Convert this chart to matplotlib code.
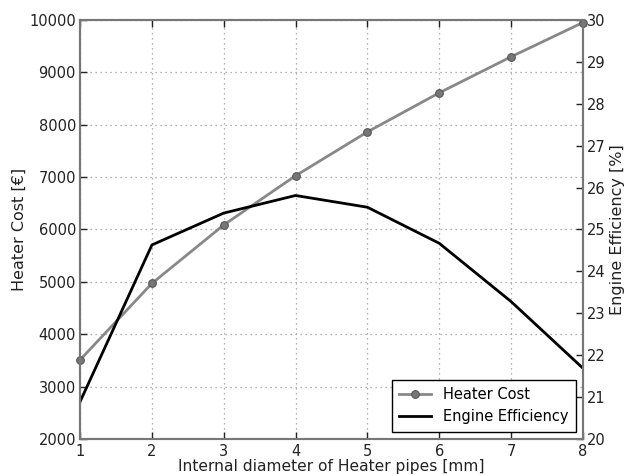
import matplotlib
matplotlib.use('Agg')
import matplotlib.pyplot as plt

# data
diameter = [1, 2, 3, 4, 5, 6, 7, 8]
heater_cost = [3510, 4970, 6085, 7025, 7862, 8608, 9296, 9950]
engine_eff = [20.89, 24.63, 25.39, 25.81, 25.53, 24.67, 23.28, 21.69]

plt.rcParams['font.family'] = ['DejaVu Sans']
plt.rcParams['font.size'] = 10.5

fig = plt.figure(figsize=(6.26, 4.75), dpi=100)
ax1 = fig.add_axes([0.128, 0.076, 0.803, 0.882])
ax2 = ax1.twinx()

l1, = ax1.plot(diameter, heater_cost, color='#888888', lw=2, marker='o',
               markersize=5.5, markerfacecolor='#777777', markeredgecolor='#555555',
               markeredgewidth=0.8, label='Heater Cost', clip_on=False, zorder=3)
l2, = ax2.plot(diameter, engine_eff, color='black', lw=2, label='Engine Efficiency')

ax1.set_xlim(1, 8)
ax1.set_ylim(2000, 10000)
ax2.set_ylim(20, 30)
ax1.set_xticks(diameter)
ax1.set_yticks(range(2000, 10001, 1000))
ax2.set_yticks(range(20, 31))

ax1.set_xlabel('Internal diameter of Heater pipes [mm]', color='#222222',
               fontsize=11.2, labelpad=0)
ax1.set_ylabel('Heater Cost [€]', color='#222222', fontsize=11.5, labelpad=1.5)
ax2.set_ylabel('Engine Efficiency [%]', color='#222222', fontsize=11.5, labelpad=3)

ax1.grid(True, linestyle=(0, (1, 3)), color='#999999', linewidth=0.9)

for ax in (ax1, ax2):
    for s in ax.spines.values():
        s.set_color('#777777')
        s.set_linewidth(1.5)
    ax.tick_params(direction='in', colors='#222222', length=5, width=1,
                   pad=3, labelsize=10.5)
ax1.tick_params(axis='x', top=True, pad=4)
ax1.tick_params(axis='y', right=False)

leg = ax2.legend([l1, l2], ['Heater Cost', 'Engine Efficiency'], loc='lower right',
                 fancybox=False, framealpha=1, edgecolor='black', borderpad=0.5,
                 handlelength=2.2, fontsize=10.5)
leg.get_frame().set_linewidth(1)

fig.savefig('out.png', dpi=100)
